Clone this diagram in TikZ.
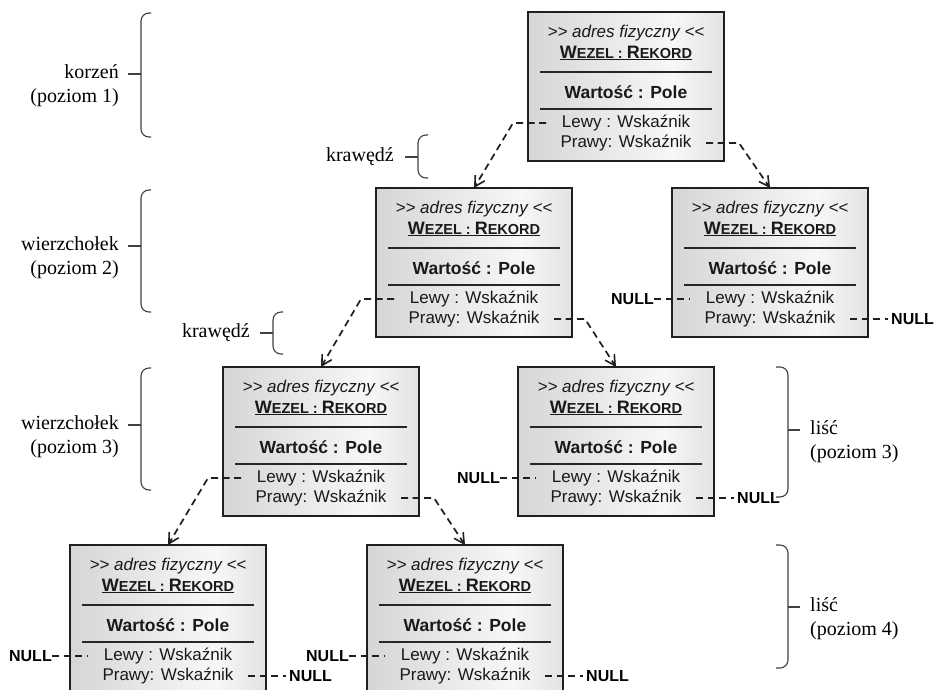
\documentclass[tikz,border=0pt]{standalone}
\usepackage{fontspec}
\setmainfont{Liberation Serif}
\newfontfamily\boxfont{Liberation Sans}[Ligatures=TeXOff]
\usetikzlibrary{arrows.meta}

% horizontal grey gradient of the record boxes
\pgfdeclarehorizontalshading{boxshade}{100bp}{color(0bp)=(black!25); color(62bp)=(black!3); color(100bp)=(black!27)}

\tikzset{
  treebox/.style={draw=black!88, line width=2.6pt, shading=boxshade, shading angle=0,
    minimum width=196pt, minimum height=149pt, anchor=north west, inner sep=0pt, outer sep=0pt},
  boxtxt/.style={font=\boxfont\fontsize{17}{20}\selectfont, text=black!90, inner sep=0pt},
  sepline/.style={line width=1.5pt, black!85},
  dashline/.style={dash pattern=on 7pt off 4.5pt, line width=1.7pt, black!88},
  link/.style={dashline, -{Straight Barb[length=10pt,width=11pt,line width=1.6pt]}},
  nulltxt/.style={font=\boxfont\bfseries\fontsize{16}{18}\selectfont, inner sep=0pt},
  bracket/.style={line width=1.1pt, black!75, rounded corners=8pt},
  tick/.style={line width=1.1pt, black!75},
  sidetxt/.style={font=\fontsize{20}{24}\selectfont, inner sep=0pt},
}

% one record: name, left, top
\newcommand\treenode[3]{%
  \node[treebox] (#1) at (#2,#3) {};
  \node[boxtxt, font=\boxfont\itshape\fontsize{17}{20}\selectfont] (#1-adr)
    at ([yshift=-21pt]#1.north) {>> adres fizyczny <<};
  \node[boxtxt, font=\boxfont\bfseries\fontsize{18}{20}\selectfont] (#1-typ)
    at ([yshift=-41pt]#1.north)
    {\underline{W{\fontsize{14.5}{16}\selectfont EZEL : }R{\fontsize{14.5}{16}\selectfont EKORD}}};
  \draw[sepline] ([xshift=12pt,yshift=-60pt]#1.north west) -- ([xshift=-12pt,yshift=-60pt]#1.north east);
  \node[boxtxt, font=\boxfont\bfseries\fontsize{17.5}{20}\selectfont] (#1-val)
    at ([yshift=-80pt]#1.north) {Wartość : Pole};
  \draw[sepline] ([xshift=12pt,yshift=-97pt]#1.north west) -- ([xshift=-12pt,yshift=-97pt]#1.north east);
  \node[boxtxt] (#1-lewy) at ([yshift=-111pt]#1.north) {Lewy : Wskaźnik};
  \node[boxtxt] (#1-prawy) at ([yshift=-131pt]#1.north) {Prawy: Wskaźnik};
  \coordinate (#1-l) at ([xshift=18pt,yshift=-111pt]#1.north west);
  \coordinate (#1-p) at ([xshift=-18pt,yshift=-131pt]#1.north east);
}

% empty pointers of a record
\newcommand\nullleft[1]{%
  \node[nulltxt, anchor=east] (#1-nl) at ([xshift=-18pt,yshift=-111pt]#1.north west) {NULL};
  \draw[dashline] (#1-nl.east) -- (#1-l);
}
\newcommand\nullright[1]{%
  \node[nulltxt, anchor=west] (#1-nr) at ([xshift=23pt,yshift=-131pt]#1.north east) {NULL};
  \draw[dashline, shorten >=3pt] (#1-p) -- (#1-nr.west);
}

% side braces: x, top, bottom, tick
\newcommand\sidebraceL[4]{%
  \draw[bracket] (#1+10,#2) -- (#1,#2) -- (#1,#3) -- (#1+10,#3);
  \draw[tick] (#1-13,#4) -- (#1,#4);
}
\newcommand\sidebraceR[4]{%
  \draw[bracket] (#1-12,#2) -- (#1,#2) -- (#1,#3) -- (#1-12,#3);
  \draw[tick] (#1,#4) -- (#1+12,#4);
}

\begin{document}
\begin{tikzpicture}[x=1pt,y=-1pt]
\useasboundingbox (0,0) rectangle (934,689);
\fill[white] (0,0) rectangle (934,689);

% records
\treenode{root}{528}{12}
\treenode{n2a}{376}{188}
\treenode{n2b}{672}{188}
\treenode{n3a}{223}{367}
\treenode{n3b}{518}{367}
\treenode{n4a}{70}{545}
\treenode{n4b}{367}{545}

% pointers to children
\draw[link] (root-l) -- ++(-33,0) -- (n2a.north);
\draw[link] (root-p) -- ++(33,0) -- (n2b.north);
\draw[link] (n2a-l) -- ++(-33,0) -- (n3a.north);
\draw[link] (n2a-p) -- ++(31,0) -- (n3b.north);
\draw[link] (n3a-l) -- ++(-33,0) -- (n4a.north);
\draw[link] (n3a-p) -- ++(33,0) -- (n4b.north);

% empty pointers
\nullleft{n2b}\nullright{n2b}
\nullleft{n3b}\nullright{n3b}
\nullleft{n4a}\nullright{n4a}
\nullleft{n4b}\nullright{n4b}

% level labels on the left
\sidebraceL{141}{13}{137}{74}
\node[sidetxt, anchor=east, align=right] (lab1) at (119,86) {korzeń\\(poziom 1)};
\sidebraceL{141}{190}{312}{246}
\node[sidetxt, anchor=east, align=right] (lab2) at (119,258) {wierzchołek\\(poziom 2)};
\sidebraceL{141}{368}{490}{425}
\node[sidetxt, anchor=east, align=right] (lab3) at (119,437) {wierzchołek\\(poziom 3)};

% edge labels
\sidebraceL{418}{135}{178}{157}
\node[sidetxt, anchor=east] (edge1) at (394,157) {krawędź};
\sidebraceL{273}{312}{354}{333}
\node[sidetxt, anchor=east] (edge2) at (250,333) {krawędź};

% leaf labels on the right
\sidebraceR{788}{367}{497}{430}
\node[sidetxt, anchor=west, align=left] (leaf3) at (810,442) {liść\\(poziom 3)};
\sidebraceR{788}{545}{668}{607}
\node[sidetxt, anchor=west, align=left] (leaf4) at (810,619) {liść\\(poziom 4)};
\end{tikzpicture}
\end{document}
